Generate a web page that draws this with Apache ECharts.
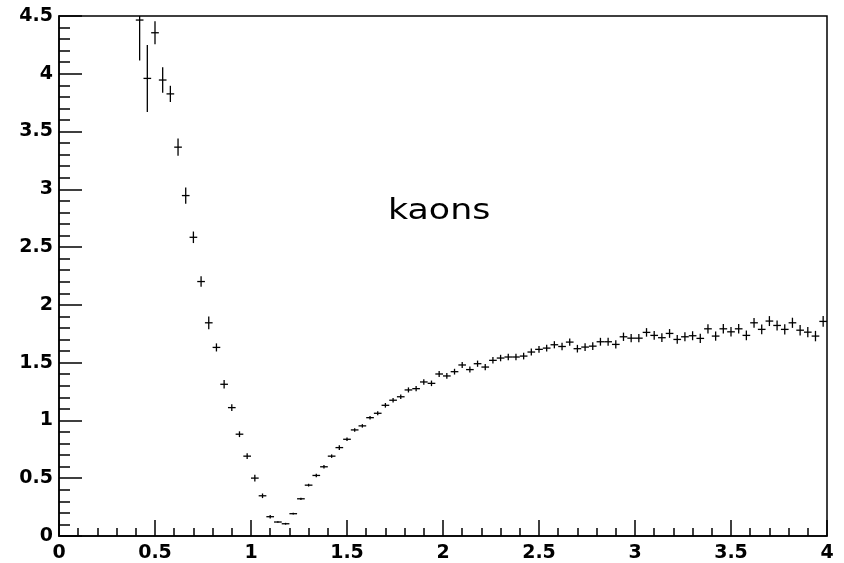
<!DOCTYPE html>
<html>
<head>
<meta charset="utf-8">
<script src="https://cdn.jsdelivr.net/npm/echarts@6/dist/echarts.min.js"></script>
<style>html,body{margin:0;padding:0;background:#fff}#c{width:844px;height:563px}</style>
</head>
<body>
<div id="c"></div>
<script>
// Bin centres (bin width 0.04)
const binCenters = [0.42,0.46,0.50,0.54,0.58,0.62,0.66,0.70,0.74,0.78,0.82,0.86,0.90,0.94,0.98,
1.02,1.06,1.10,1.14,1.18,1.22,1.26,1.30,1.34,1.38,1.42,1.46,1.50,1.54,1.58,1.62,1.66,1.70,1.74,1.78,
1.82,1.86,1.90,1.94,1.98,2.02,2.06,2.10,2.14,2.18,2.22,2.26,2.30,2.34,2.38,2.42,2.46,2.50,2.54,2.58,
2.62,2.66,2.70,2.74,2.78,2.82,2.86,2.90,2.94,2.98,3.02,3.06,3.10,3.14,3.18,3.22,3.26,3.30,3.34,3.38,
3.42,3.46,3.50,3.54,3.58,3.62,3.66,3.70,3.74,3.78,3.82,3.86,3.90,3.94,3.98];
const binWidth = 0.04;
const kaonValues = [4.465,3.96,4.355,3.946,3.826,3.365,2.946,2.585,2.202,1.845,1.632,1.313,1.111,0.881,0.691,
0.501,0.348,0.167,0.121,0.106,0.193,0.322,0.44,0.524,0.599,0.691,0.765,0.837,0.918,0.953,1.024,1.062,1.131,1.175,1.205,
1.264,1.275,1.333,1.321,1.402,1.385,1.422,1.48,1.44,1.491,1.462,1.52,1.54,1.549,1.549,1.557,1.592,1.615,1.626,1.655,
1.64,1.678,1.621,1.635,1.643,1.681,1.681,1.658,1.724,1.712,1.712,1.762,1.736,1.716,1.753,1.701,1.724,1.733,1.71,1.793,
1.73,1.793,1.767,1.793,1.736,1.845,1.788,1.86,1.822,1.788,1.845,1.781,1.764,1.73,1.857];
const kaonErrors = [0.35,0.29,0.10,0.11,0.07,0.075,0.07,0.05,0.046,0.055,0.035,0.036,0.03,0.025,0.025,
0.03,0.02,0.015,0.006,0.008,0.008,0.01,0.012,0.015,0.015,0.015,0.02,0.015,0.015,0.015,0.015,0.018,0.02,0.02,0.02,
0.022,0.022,0.024,0.024,0.025,0.025,0.025,0.026,0.026,0.027,0.027,0.028,0.028,0.028,0.029,0.029,0.03,0.03,0.03,0.031,
0.032,0.032,0.033,0.033,0.034,0.034,0.035,0.035,0.036,0.036,0.036,0.037,0.037,0.038,0.038,0.038,0.039,0.039,0.04,0.04,
0.04,0.041,0.041,0.041,0.042,0.042,0.043,0.043,0.043,0.044,0.044,0.045,0.045,0.045,0.046];
const xTicks = {min: 0, max: 4, interval: 0.5};
const yTicks = {min: 0, max: 4.5, interval: 0.5};
const label = 'kaons';

const data = binCenters.map((x, i) => [x, kaonValues[i], kaonErrors[i]]);
const chart = echarts.init(document.getElementById('c'), null, {renderer: 'canvas'});
const lineStyle = {stroke: '#000', lineWidth: 1.3};
const labelFont = {color: '#000', fontFamily: 'DejaVu Sans', fontWeight: 'bold', fontSize: 19};

chart.setOption({
  backgroundColor: '#fff',
  animation: false,
  grid: {left: 59, right: 17, top: 16, bottom: 26, show: true, borderColor: '#000', borderWidth: 1.5, backgroundColor: 'transparent'},
  xAxis: {
    type: 'value', min: xTicks.min, max: xTicks.max, interval: xTicks.interval,
    axisLine: {show: true, onZero: false, lineStyle: {color: '#000', width: 1.5}},
    axisTick: {show: true, inside: true, length: 16, lineStyle: {color: '#000', width: 1.5}},
    minorTick: {show: true, splitNumber: 5, length: 8, lineStyle: {color: '#000', width: 1.5}},
    splitLine: {show: false},
    axisLabel: Object.assign({margin: 8, showMinLabel: true, showMaxLabel: true}, labelFont)
  },
  yAxis: {
    type: 'value', min: yTicks.min, max: yTicks.max, interval: yTicks.interval,
    axisLine: {show: true, onZero: false, lineStyle: {color: '#000', width: 1.5}},
    axisTick: {show: true, inside: true, length: 23, lineStyle: {color: '#000', width: 1.5}},
    minorTick: {show: true, splitNumber: 5, length: 11, lineStyle: {color: '#000', width: 1.5}},
    splitLine: {show: false},
    axisLabel: Object.assign({margin: 6, showMinLabel: true, showMaxLabel: true}, labelFont)
  },
  graphic: [{
    type: 'text', left: 388, top: 197,
    style: {text: label, fill: '#000', font: '29px "DejaVu Sans"'},
    scaleX: 1.2
  }],
  series: [{
    type: 'custom',
    clip: true,
    data: data,
    encode: {x: 0, y: 1},
    renderItem: function (params, api) {
      const x = api.value(0), y = api.value(1), e = api.value(2);
      const l = api.coord([x - binWidth / 2, y]);
      const r = api.coord([x + binWidth / 2, y]);
      const t = api.coord([x, y + e]);
      const b = api.coord([x, y - e]);
      return {
        type: 'group',
        children: [
          {type: 'line', shape: {x1: l[0], y1: l[1], x2: r[0], y2: r[1]}, style: lineStyle},
          {type: 'line', shape: {x1: t[0], y1: t[1], x2: b[0], y2: b[1]}, style: lineStyle}
        ]
      };
    }
  }]
});
</script>
</body>
</html>
